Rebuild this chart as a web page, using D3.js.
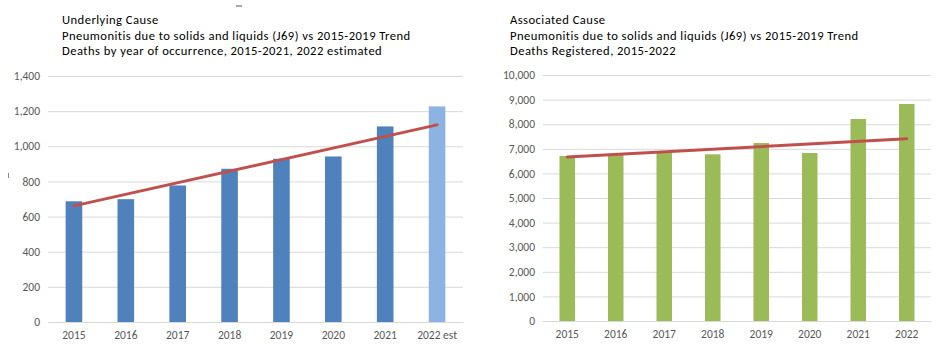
<!DOCTYPE html>
<html><head><meta charset="utf-8">
<script src="https://cdn.jsdelivr.net/npm/d3@7"></script>
<style>
html,body{margin:0;padding:0;background:#fff;}
svg{display:block;font-family:Carlito,Lato,"Liberation Sans",sans-serif;}
</style></head><body>
<svg id="chart" width="949" height="364"></svg>
<script>
// ---- data ----
const leftTitle = ["Underlying Cause", "Pneumonitis due to solids and liquids (J69) vs 2015-2019 Trend", "Deaths by year of occurrence, 2015-2021, 2022 estimated"];
const leftCategories = ["2015","2016","2017","2018","2019","2020","2021","2022 est"];
const leftValues = [687, 699, 777, 872, 929, 942, 1113, 1227];
const leftEstimated = [false,false,false,false,false,false,false,true];
const leftTrendEnds = [661, 1122];
const leftTicks = [0,200,400,600,800,1000,1200,1400];

const rightTitle = ["Associated Cause", "Pneumonitis due to solids and liquids (J69) vs 2015-2019 Trend", "Deaths Registered, 2015-2022"];
const rightCategories = ["2015","2016","2017","2018","2019","2020","2021","2022"];
const rightValues = [6707, 6748, 6858, 6776, 7236, 6829, 8211, 8821];
const rightTrendEnds = [6665, 7411];
const rightTicks = [0,1000,2000,3000,4000,5000,6000,7000,8000,9000,10000];

const svg = d3.select("#chart");
const fmt = d3.format(",");
const FONT = "Carlito,Lato,'Liberation Sans',sans-serif";

function drawChart(cfg){
  const g = svg.append("g");
  const x = d3.scaleBand().domain(cfg.categories).range([cfg.x0, cfg.x1]).paddingInner(0.68).paddingOuter(0.34);
  const y = d3.scaleLinear().domain([0, cfg.max]).range([cfg.y0, cfg.y1]);

  // title
  cfg.title.forEach((line,i)=>{
    g.append("text").attr("x", cfg.titleX).attr("y", 24 + i*15.5)
      .attr("font-size", 12.6).attr("letter-spacing", 0.45).attr("fill", "#000").text(line);
  });

  // gridlines
  const ya = d3.axisLeft(y).tickValues(cfg.ticks).tickFormat(fmt).tickSize(-(cfg.x1-cfg.x0)).tickPadding(8);
  const yg = g.append("g").attr("transform", `translate(${cfg.x0},0)`).call(ya);
  yg.select(".domain").remove();
  yg.selectAll(".tick line").attr("stroke", "#d9d9d9").attr("stroke-width", 1);
  yg.selectAll(".tick text").attr("fill", "#595959").attr("font-size", 11.5).attr("font-family", FONT);

  // x axis
  const xa = d3.axisBottom(x).tickSize(0).tickPadding(9);
  const xg = g.append("g").attr("transform", `translate(0,${cfg.y0})`).call(xa);
  xg.select(".domain").attr("stroke", "#d9d9d9");
  xg.selectAll(".tick text").attr("fill", "#595959").attr("font-size", 11.5).attr("font-family", FONT);

  // bars
  g.selectAll("rect.bar").data(cfg.values).enter().append("rect")
    .attr("class","bar")
    .attr("x", (d,i)=>x(cfg.categories[i]))
    .attr("width", x.bandwidth())
    .attr("y", d=>y(d))
    .attr("height", d=>y(0)-y(d))
    .attr("fill", (d,i)=>cfg.color(i));

  // trend
  const first = cfg.categories[0], last = cfg.categories[cfg.categories.length-1];
  const pts = [[x(first)+x.bandwidth()/2, y(cfg.trend[0])],[x(last)+x.bandwidth()/2, y(cfg.trend[1])]];
  g.append("path").attr("d", d3.line()(pts)).attr("stroke", "#c0504d").attr("stroke-width", 3)
    .attr("stroke-linecap","round").attr("fill","none");
}

drawChart({categories: leftCategories, values: leftValues, trend: leftTrendEnds, ticks: leftTicks, max: 1400,
  x0: 48, x1: 463, y0: 322, y1: 76, titleX: 62, title: leftTitle,
  color: i => leftEstimated[i] ? "#8db3e2" : "#4f81bd"});
drawChart({categories: rightCategories, values: rightValues, trend: rightTrendEnds, ticks: rightTicks, max: 10000,
  x0: 543, x1: 931, y0: 321, y1: 75, titleX: 510, title: rightTitle,
  color: i => "#9bbb59"});

// small stray marks in the source image
svg.append("line").attr("x1",236).attr("x2",242).attr("y1",6).attr("y2",6).attr("stroke","#555").attr("stroke-width",1);
svg.append("line").attr("x1",8.5).attr("x2",8.5).attr("y1",173).attr("y2",178).attr("stroke","#888").attr("stroke-width",1);
</script>
</body></html>
